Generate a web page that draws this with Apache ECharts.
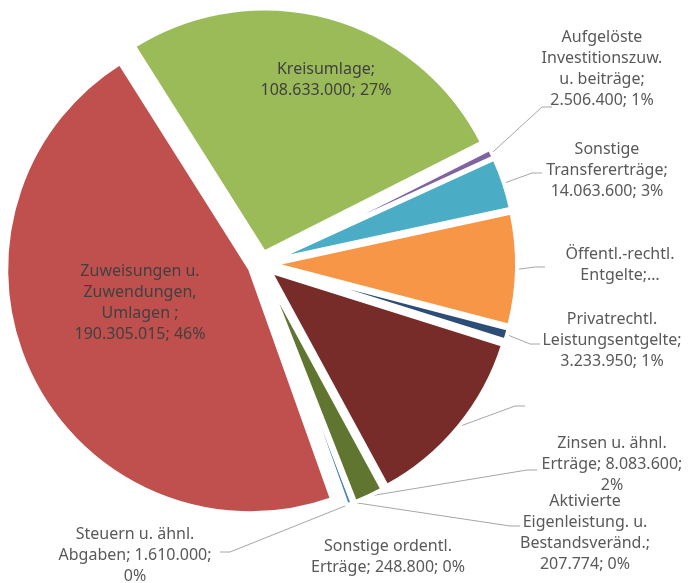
<!DOCTYPE html>
<html>
<head>
<meta charset="utf-8">
<script src="https://cdn.jsdelivr.net/npm/echarts@6/dist/echarts.min.js"></script>
<style>
html, body { margin: 0; padding: 0; background: #fff; }
#chart { width: 688px; height: 583px; }
</style>
</head>
<body>
<div id="chart"></div>
<script>
// slices in drawing order (clockwise)
var names = ['Steuern u. ähnl. Abgaben', 'Zuweisungen u. Zuwendungen, Umlagen', 'Kreisumlage',
  'Aufgelöste Investitionszuw. u. beiträge', 'Sonstige Transfererträge', 'Öffentl.-rechtl. Entgelte',
  'Privatrechtl. Leistungsentgelte', '', 'Zinsen u. ähnl. Erträge',
  'Aktivierte Eigenleistung. u. Bestandsveränd.', 'Sonstige ordentl. Erträge'];
var values = [1610000, 190305015, 108633000, 2506400, 14063600, 30500000, 3233950, 50100000, 8083600, 207774, 248800];
var labelTexts = [
  'Steuern u. ähnl.\nAbgaben; 1.610.000;\n0%',
  'Zuweisungen u.\nZuwendungen,\nUmlagen ;\n190.305.015; 46%',
  'Kreisumlage;\n108.633.000; 27%',
  'Aufgelöste\nInvestitionszuw.\nu. beiträge;\n2.506.400; 1%',
  'Sonstige\nTransfererträge;\n14.063.600; 3%',
  'Öffentl.-rechtl.\nEntgelte;…',
  'Privatrechtl.\nLeistungsentgelte;\n3.233.950; 1%',
  ' ',
  'Zinsen u. ähnl.\nErträge; 8.083.600;\n2%',
  'Aktivierte\nEigenleistung. u.\nBestandsveränd.;\n207.774; 0%',
  'Sonstige ordentl.\nErträge; 248.800; 0%'
];
var colors = ['#4F81BD', '#C0504D', '#9BBB59', '#8064A2', '#4BACC6', '#F79646',
  '#2C4D75', '#772C2A', '#5F7530', '#4D3B62', '#276A7C'];

// label centres and the end of each leader line (next to its label)
var labelPos = [[135, 555], [140, 303], [326, 80], [602, 69], [607, 170], [620, 265],
  [612, 340], [530, 406], [612, 464], [585, 533], [388, 557]];
var lineEnds = [[220, 552], null, null, [552, 107], [542, 173], [545, 267],
  [540, 344], [525, 406], [537, 470], [520, 526], null];
var insideLabels = [1, 2];

var center = [261, 264];
var startAngle = -69;
var explode = 12;
var tail = 10;

var chart = echarts.init(document.getElementById('chart'));

// explosion offset of each slice (the label and line move with it)
var total = values.reduce(function (a, b) { return a + b; }, 0);
var offsets = [];
var cum = 0;
for (var k = 0; k < values.length; k++) {
  var mid = (90 - startAngle) + (cum + values[k] / 2) / total * 360;
  var rad = mid * Math.PI / 180;
  offsets.push([explode * Math.sin(rad), -explode * Math.cos(rad)]);
  cum += values[k];
}

var pieData = [];
for (var i = 0; i < values.length; i++) {
  var item = {
    name: names[i] || ('slice' + i),
    value: values[i],
    selected: true,
    itemStyle: { color: colors[i] }
  };
  if (insideLabels.indexOf(i) >= 0) {
    item.label = { position: 'inside', color: '#404040' };
  }
  if (!lineEnds[i]) {
    item.labelLine = { show: false };
  }
  pieData.push(item);
}

var option = {
  animation: false,
  series: [{
    type: 'pie',
    center: center,
    radius: 244,
    startAngle: startAngle,
    clockwise: true,
    avoidLabelOverlap: false,
    selectedMode: 'multiple',
    selectedOffset: explode,
    itemStyle: { borderColor: '#fff', borderWidth: 4 },
    select: { itemStyle: { borderColor: '#fff', borderWidth: 4 } },
    emphasis: { disabled: true },
    label: {
      show: true,
      fontFamily: 'Noto Sans',
      fontSize: 16,
      lineHeight: 21,
      color: '#595959',
      formatter: function (p) { return labelTexts[p.dataIndex]; }
    },
    labelLine: {
      show: true,
      length2: 10,
      lineStyle: { color: '#A6A6A6', width: 1 }
    },
    labelLayout: function (p) {
      var idx = p.dataIndex;
      var pos = labelPos[idx];
      var o = offsets[idx];
      var r = p.labelRect;
      var anchorX;
      if (insideLabels.indexOf(idx) >= 0) anchorX = r.x + r.width / 2;
      else if (r.x + r.width / 2 > center[0]) anchorX = r.x;
      else anchorX = r.x + r.width;
      var res = {
        align: 'center',
        dx: pos[0] - anchorX - o[0],
        dy: pos[1] - (r.y + r.height / 2) - o[1]
      };
      var end = lineEnds[idx];
      if (end && p.labelLinePoints) {
        var p0 = p.labelLinePoints[0];
        var dir = end[0] > center[0] ? -1 : 1;
        res.labelLinePoints = [
          [p0[0], p0[1]],
          [end[0] + dir * tail - o[0], end[1] - o[1]],
          [end[0] - o[0], end[1] - o[1]]
        ];
      }
      return res;
    },
    data: pieData
  }]
};

chart.setOption(option);
</script>
</body>
</html>
